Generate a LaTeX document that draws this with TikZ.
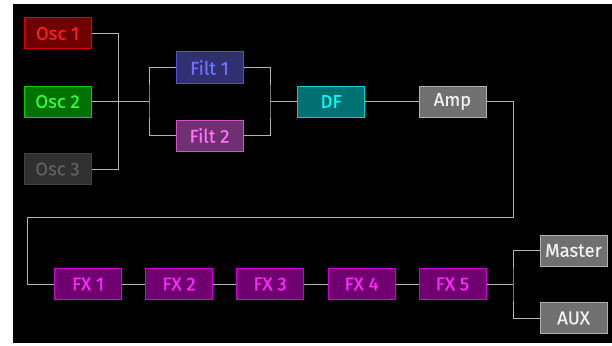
\documentclass[tikz,border=0pt]{standalone}
\usepackage{fontspec}
\setmainfont{Fira Sans}
\newfontfamily\boxfont{Fira Sans}[FakeBold=0.6]
\begin{document}
\begin{tikzpicture}[x=1pt,y=-1pt,
  blk/.style={draw, line width=1pt, minimum width=67pt, minimum height=31pt,
    inner sep=0pt, font=\boxfont\fontsize{18.5}{20}\selectfont},
  wire/.style={draw=wiregrey, line width=1pt},
]
\definecolor{wiregrey}{HTML}{B4B4B4}
\tikzset{
  oscA/.style={blk, fill={rgb,255:red,112;green,0;blue,0}, draw={rgb,255:red,220;green,0;blue,0}, text={rgb,255:red,255;green,30;blue,30}},
  oscB/.style={blk, fill={rgb,255:red,0;green,112;blue,0}, draw={rgb,255:red,0;green,210;blue,0}, text={rgb,255:red,50;green,255;blue,50}},
  oscC/.style={blk, fill={rgb,255:red,48;green,48;blue,48}, draw={rgb,255:red,64;green,64;blue,64}, text={rgb,255:red,96;green,96;blue,96}},
  filtA/.style={blk, fill={rgb,255:red,48;green,48;blue,112}, draw={rgb,255:red,80;green,80;blue,210}, text={rgb,255:red,112;green,112;blue,255}},
  filtB/.style={blk, fill={rgb,255:red,112;green,48;blue,112}, draw={rgb,255:red,210;green,80;blue,210}, text={rgb,255:red,255;green,112;blue,255}},
  dfbox/.style={blk, fill={rgb,255:red,0;green,112;blue,112}, draw={rgb,255:red,0;green,210;blue,210}, text={rgb,255:red,0;green,255;blue,255}},
  greybox/.style={blk, fill={rgb,255:red,112;green,112;blue,112}, draw={rgb,255:red,176;green,176;blue,176}, text={rgb,255:red,240;green,240;blue,240}},
  fxbox/.style={blk, fill={rgb,255:red,112;green,0;blue,112}, draw={rgb,255:red,210;green,0;blue,210}, text={rgb,255:red,255;green,40;blue,255}},
}
% page and dark panel
\useasboundingbox (0,0) rectangle (612,345);
\fill[white] (0,0) rectangle (612,345);
\fill[black] (13,4) rectangle (612,343);

% sources
\node[oscA] (osc1) at (57.5,33.5) {Osc 1};
\node[oscB] (osc2) at (57.5,101.5) {Osc 2};
\node[oscC] (osc3) at (57.5,169) {Osc 3};
% filters
\node[filtA] (filt1) at (209.5,67.5) {Filt 1};
\node[filtB] (filt2) at (209.5,135.5) {Filt 2};
\node[dfbox] (df) at (331,101.5) {DF};
\node[greybox] (amp) at (452.5,101.5) {Amp};
% effects chain
\node[fxbox] (fx1) at (88,284) {FX 1};
\node[fxbox] (fx2) at (179,284) {FX 2};
\node[fxbox] (fx3) at (270,284) {FX 3};
\node[fxbox] (fx4) at (361.5,284) {FX 4};
\node[fxbox] (fx5) at (452.5,284) {FX 5};
% outputs
\node[greybox] (master) at (573.5,250.5) {Master};
\node[greybox] (aux) at (573.5,318) {AUX};

% junction points
\coordinate (oscbus) at (118,101.5);
\coordinate (fsplit) at (149,101.5);
\coordinate (fmerge) at (270,101.5);
\coordinate (turnR) at (513,217);
\coordinate (turnL) at (27,217);
\coordinate (osplit) at (513,284);

% wiring
\draw[wire] (osc1.east) -| (oscbus);
\draw[wire] (osc3.east) -| (oscbus);
\draw[wire] (osc2.east) -- (fsplit);
\draw[wire] (filt1.west) -| (fsplit) |- (filt2.west);
\draw[wire] (filt1.east) -| (fmerge) |- (filt2.east);
\draw[wire] (fmerge) -- (df.west);
\draw[wire] (df.east) -- (amp.west);
\draw[wire] (amp.east) -| (turnR) -- (turnL) |- (fx1.west);
\draw[wire] (fx1) -- (fx2);
\draw[wire] (fx2) -- (fx3);
\draw[wire] (fx3) -- (fx4);
\draw[wire] (fx4) -- (fx5);
\draw[wire] (fx5.east) -- (osplit);
\draw[wire] (master.west) -| (osplit) |- (aux.west);
\end{tikzpicture}
\end{document}
